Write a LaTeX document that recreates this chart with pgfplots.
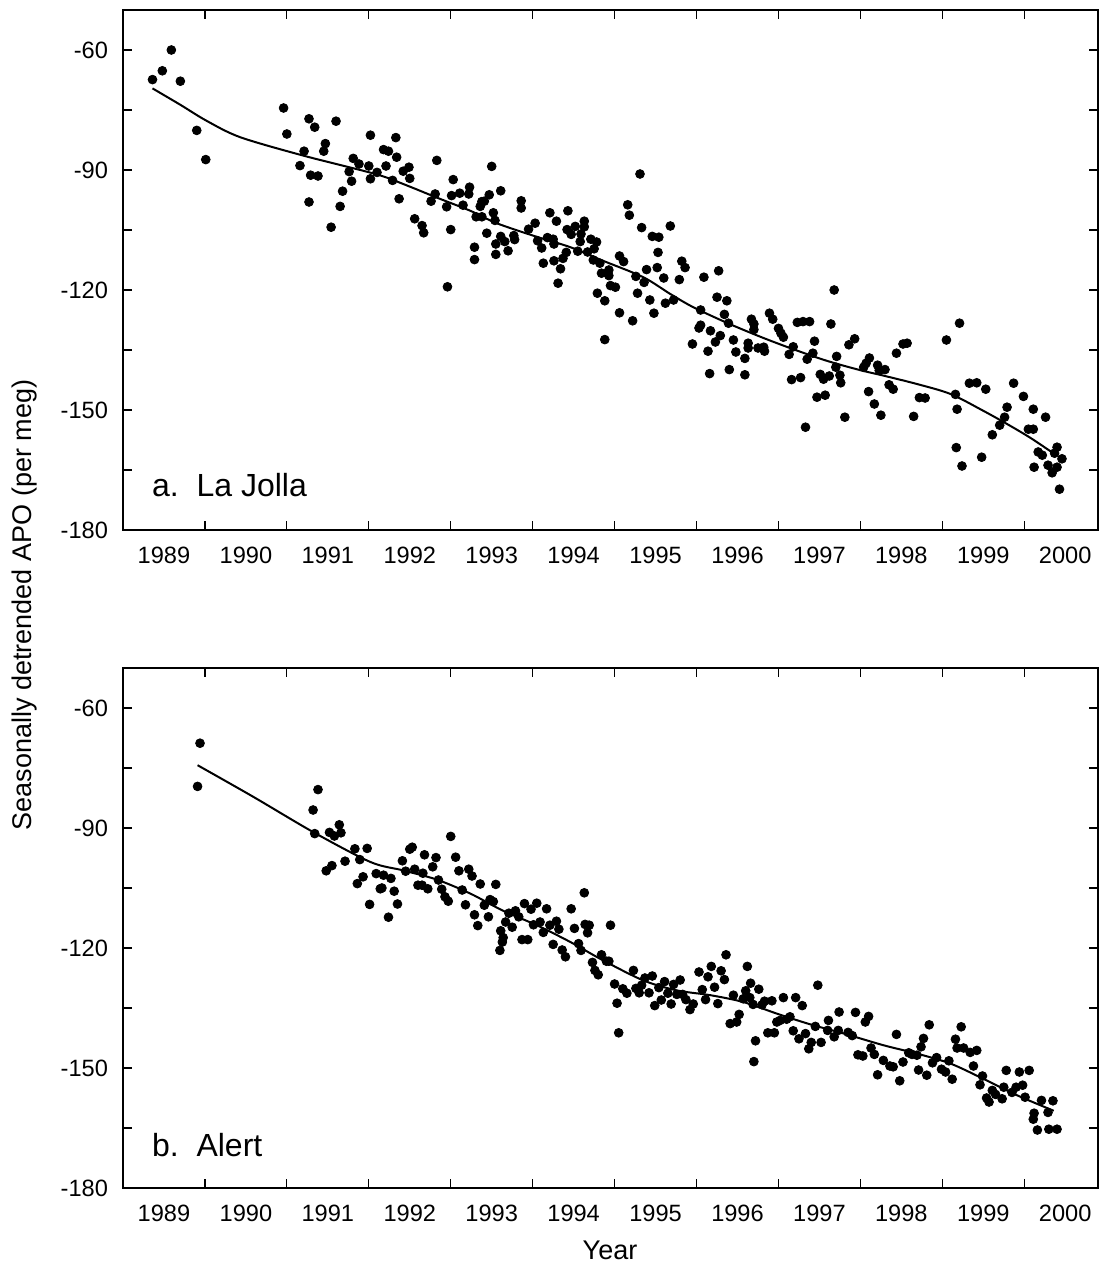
\documentclass[border=0pt]{standalone}
\usepackage{fontspec}
\setmainfont{Liberation Sans}
\usepackage{pgfplots}
\pgfplotsset{compat=1.18}
\pgfplotsset{
 apostyle/.style={
  scale only axis, width=487.5pt, height=260pt,
  xmin=1989, xmax=2000.9, ymin=-180, ymax=-50,
  xtick={1990,1991,1992,1993,1994,1995,1996,1997,1998,1999,2000},
  xticklabel={\mbox{}},
  extra x ticks={1989.5,1990.5,1991.5,1992.5,1993.5,1994.5,1995.5,1996.5,1997.5,1998.5,1999.5,2000.5},
  extra x tick labels={1989,1990,1991,1992,1993,1994,1995,1996,1997,1998,1999,2000},
  extra x tick style={major tick length=0pt, tick style={draw=none}, xticklabel style={yshift=-5pt}},
  ytick={-180,-150,-120,-90,-60},
  minor ytick={-165,-135,-105,-75},
  major tick length=4.5pt, minor tick length=4.5pt,
  tick align=inside,
  axis line style={line width=0.6pt},
  tick style={black, line width=0.6pt},
  /pgf/number format/assume math mode=true,
  ticklabel style={font=\fontsize{11.8}{14}\selectfont},
  yticklabel style={xshift=-4pt},
 },
 dots/.style={only marks, mark=*, mark size=2.2pt, mark options={fill=black, draw=black}},
 trend/.style={black, line width=1pt, smooth, no marks},
}
\begin{document}
\begin{tikzpicture}
\useasboundingbox (-61.5pt,-369pt) rectangle (490.5pt,265pt);
\begin{axis}[apostyle, at={(0,0)}, anchor=south west]
\addplot[dots] table {
1989.36 -67.4
1989.48 -65.2
1989.59 -60.0
1989.70 -67.8
1989.90 -80.1
1990.01 -87.4
1990.96 -74.5
1991.00 -81.0
1991.16 -88.9
1991.21 -85.3
1991.27 -77.2
1991.27 -98.0
1991.29 -91.3
1991.34 -79.3
1991.38 -91.5
1991.45 -85.3
1991.47 -83.4
1991.54 -104.3
1991.60 -77.8
1991.65 -99.1
1991.68 -95.3
1991.76 -90.4
1991.79 -92.8
1991.81 -87.1
1991.88 -88.5
1992.00 -89.0
1992.02 -81.3
1992.02 -92.2
1992.10 -90.6
1992.18 -84.9
1992.21 -89.0
1992.24 -85.3
1992.29 -92.6
1992.33 -81.9
1992.34 -86.8
1992.37 -97.2
1992.42 -90.3
1992.49 -89.3
1992.50 -92.1
1992.56 -102.2
1992.65 -103.9
1992.67 -105.7
1992.76 -97.8
1992.81 -96.0
1992.83 -87.6
1992.95 -99.2
1992.96 -119.2
1993.00 -104.9
1993.01 -96.4
1993.03 -92.4
1993.11 -95.8
1993.15 -98.8
1993.22 -96.0
1993.23 -94.3
1993.29 -109.3
1993.29 -112.4
1993.31 -101.7
1993.36 -99.1
1993.38 -97.9
1993.38 -101.7
1993.41 -97.8
1993.44 -105.8
1993.47 -96.2
1993.50 -89.1
1993.52 -100.7
1993.54 -102.6
1993.55 -108.5
1993.55 -111.1
1993.61 -95.2
1993.61 -106.6
1993.66 -107.9
1993.70 -110.2
1993.77 -106.4
1993.78 -107.4
1993.86 -97.7
1993.86 -99.5
1993.95 -104.8
1994.03 -103.3
1994.06 -107.7
1994.11 -109.5
1994.13 -113.3
1994.18 -106.9
1994.21 -100.7
1994.25 -107.3
1994.26 -108.5
1994.26 -112.7
1994.29 -102.8
1994.31 -118.3
1994.34 -114.7
1994.37 -112.1
1994.41 -110.6
1994.42 -104.9
1994.43 -100.2
1994.47 -106.1
1994.52 -104.1
1994.55 -110.3
1994.58 -107.9
1994.59 -106.0
1994.63 -102.8
1994.63 -104.2
1994.67 -110.5
1994.71 -107.3
1994.74 -112.5
1994.75 -109.7
1994.78 -108.0
1994.79 -120.8
1994.82 -113.3
1994.84 -115.8
1994.88 -122.7
1994.88 -132.4
1994.93 -115.0
1994.93 -116.4
1994.95 -118.9
1995.01 -119.3
1995.06 -111.5
1995.06 -125.7
1995.11 -112.9
1995.16 -98.7
1995.18 -101.3
1995.22 -127.7
1995.26 -116.6
1995.28 -120.8
1995.31 -91.0
1995.33 -104.4
1995.36 -118.1
1995.39 -114.9
1995.43 -122.5
1995.46 -106.6
1995.48 -125.8
1995.52 -114.4
1995.53 -110.6
1995.54 -106.8
1995.60 -117.0
1995.62 -123.3
1995.68 -104.0
1995.72 -122.5
1995.79 -117.4
1995.82 -112.8
1995.86 -114.4
1995.95 -133.5
1996.03 -129.5
1996.05 -125.0
1996.05 -128.8
1996.09 -116.8
1996.14 -135.3
1996.16 -140.9
1996.17 -130.2
1996.23 -133.0
1996.25 -121.8
1996.27 -115.2
1996.29 -131.4
1996.34 -126.1
1996.37 -122.7
1996.39 -128.3
1996.40 -139.9
1996.45 -132.5
1996.48 -135.5
1996.59 -137.1
1996.59 -141.2
1996.63 -133.3
1996.63 -134.5
1996.67 -127.3
1996.70 -128.5
1996.70 -129.9
1996.75 -134.5
1996.82 -134.3
1996.83 -135.3
1996.89 -125.8
1996.93 -127.3
1997.00 -129.6
1997.03 -130.8
1997.06 -131.8
1997.13 -136.1
1997.16 -142.4
1997.18 -134.2
1997.23 -128.1
1997.27 -141.9
1997.30 -127.9
1997.33 -154.3
1997.35 -137.3
1997.38 -127.9
1997.42 -135.8
1997.44 -132.8
1997.47 -146.8
1997.51 -141.1
1997.55 -142.3
1997.57 -146.3
1997.62 -141.5
1997.64 -128.5
1997.68 -120.0
1997.70 -139.3
1997.71 -136.6
1997.75 -141.3
1997.76 -143.2
1997.81 -151.8
1997.86 -133.7
1997.93 -132.2
1998.04 -139.3
1998.07 -138.3
1998.10 -145.4
1998.11 -137.0
1998.17 -148.5
1998.21 -138.8
1998.23 -140.1
1998.25 -151.3
1998.30 -139.9
1998.35 -143.7
1998.40 -144.8
1998.44 -135.8
1998.52 -133.5
1998.57 -133.3
1998.65 -151.6
1998.72 -146.9
1998.79 -147.0
1999.05 -132.5
1999.16 -146.1
1999.17 -159.4
1999.18 -149.8
1999.21 -128.3
1999.24 -164.0
1999.33 -143.3
1999.42 -143.2
1999.48 -161.8
1999.53 -144.8
1999.61 -156.2
1999.70 -153.8
1999.76 -151.8
1999.79 -149.3
1999.87 -143.3
1999.99 -146.6
2000.05 -154.8
2000.11 -149.8
2000.11 -154.8
2000.12 -164.3
2000.17 -160.5
2000.22 -161.3
2000.26 -151.8
2000.29 -163.8
2000.34 -165.7
2000.37 -160.8
2000.40 -159.3
2000.40 -164.3
2000.43 -169.8
2000.46 -162.2
};
\addplot[trend] table {
1989.36 -69.6
1989.70 -73.7
1990.02 -77.7
1990.43 -81.8
1991.20 -86.4
1992.08 -91.0
1992.42 -93.5
1992.83 -96.9
1993.24 -100.2
1993.56 -103.3
1994.05 -106.7
1994.46 -109.3
1994.86 -112.7
1995.35 -116.8
1995.68 -121.0
1995.96 -124.3
1996.37 -128.2
1996.78 -131.7
1997.18 -134.8
1997.59 -137.7
1997.99 -140.0
1998.28 -141.4
1998.69 -143.5
1999.10 -146.0
1999.50 -150.2
1999.79 -153.5
2000.07 -156.9
2000.34 -160.6
};
\node[anchor=base west, font=\fontsize{16}{19}\selectfont] at (rel axis cs:0.0226,0.0635) {a.\ \ La Jolla};
\end{axis}
\begin{axis}[apostyle, at={(0,-329pt)}, anchor=south west]
\addplot[dots] table {
1989.91 -79.6
1989.94 -68.8
1991.32 -85.5
1991.34 -91.4
1991.38 -80.4
1991.48 -100.7
1991.52 -91.1
1991.55 -99.4
1991.58 -92.0
1991.64 -89.2
1991.66 -91.2
1991.71 -98.3
1991.83 -95.2
1991.86 -103.9
1991.89 -97.9
1991.93 -102.2
1991.98 -95.1
1992.01 -109.1
1992.09 -101.4
1992.14 -105.2
1992.16 -105.0
1992.18 -101.8
1992.24 -112.3
1992.27 -102.6
1992.31 -105.8
1992.35 -109.0
1992.41 -98.2
1992.45 -100.8
1992.50 -95.3
1992.53 -94.8
1992.56 -100.3
1992.60 -104.3
1992.65 -104.3
1992.66 -101.3
1992.68 -96.7
1992.72 -105.2
1992.78 -99.7
1992.82 -97.4
1992.85 -103.0
1992.89 -105.3
1992.93 -107.2
1992.97 -108.3
1993.00 -92.1
1993.06 -97.3
1993.10 -100.7
1993.14 -105.5
1993.18 -109.2
1993.22 -100.3
1993.26 -102.0
1993.29 -111.7
1993.33 -114.4
1993.36 -104.0
1993.41 -109.3
1993.46 -112.2
1993.48 -107.9
1993.52 -108.4
1993.55 -104.1
1993.60 -120.6
1993.61 -115.7
1993.63 -118.5
1993.64 -117.4
1993.67 -113.5
1993.71 -111.3
1993.75 -114.8
1993.79 -110.7
1993.83 -112.2
1993.87 -117.9
1993.90 -108.9
1993.94 -117.9
1993.98 -110.3
1994.01 -114.2
1994.05 -108.8
1994.09 -113.5
1994.13 -116.1
1994.17 -110.2
1994.21 -114.3
1994.25 -119.1
1994.29 -113.3
1994.32 -115.3
1994.36 -120.5
1994.40 -122.2
1994.47 -110.2
1994.51 -115.1
1994.56 -118.9
1994.59 -120.6
1994.63 -106.2
1994.64 -114.1
1994.67 -116.2
1994.69 -114.3
1994.73 -123.6
1994.76 -125.6
1994.80 -126.7
1994.84 -121.7
1994.90 -123.3
1994.93 -123.3
1994.95 -114.3
1995.00 -129.0
1995.03 -133.8
1995.05 -141.2
1995.10 -130.2
1995.15 -131.3
1995.23 -125.6
1995.26 -130.1
1995.30 -131.2
1995.33 -129.3
1995.37 -127.5
1995.42 -131.2
1995.46 -127.0
1995.49 -134.4
1995.54 -129.9
1995.57 -133.0
1995.61 -128.4
1995.65 -131.3
1995.69 -134.0
1995.72 -129.1
1995.76 -131.6
1995.80 -128.0
1995.83 -131.6
1995.87 -132.9
1995.92 -135.4
1995.96 -134.0
1996.03 -126.0
1996.07 -130.4
1996.11 -132.9
1996.14 -127.2
1996.18 -124.6
1996.22 -129.8
1996.26 -133.9
1996.30 -125.7
1996.34 -127.9
1996.36 -121.7
1996.41 -138.9
1996.45 -131.8
1996.49 -138.5
1996.52 -136.6
1996.57 -132.7
1996.60 -130.7
1996.62 -124.6
1996.65 -132.4
1996.66 -128.8
1996.69 -134.1
1996.70 -148.4
1996.72 -143.2
1996.76 -130.3
1996.80 -134.2
1996.83 -133.3
1996.87 -141.2
1996.92 -133.2
1996.95 -141.2
1996.98 -138.5
1997.02 -138.1
1997.06 -132.4
1997.10 -137.8
1997.14 -137.2
1997.18 -140.7
1997.21 -132.4
1997.25 -142.7
1997.29 -134.4
1997.33 -141.4
1997.37 -145.2
1997.40 -143.6
1997.45 -139.6
1997.48 -129.3
1997.52 -143.6
1997.60 -140.6
1997.61 -138.1
1997.68 -142.2
1997.73 -140.6
1997.74 -136.0
1997.85 -141.1
1997.90 -141.9
1997.94 -136.1
1997.97 -146.7
1998.03 -147.0
1998.06 -138.5
1998.10 -137.1
1998.13 -145.0
1998.17 -146.6
1998.21 -151.7
1998.28 -148.1
1998.36 -149.5
1998.40 -149.7
1998.44 -141.6
1998.48 -153.2
1998.52 -148.5
1998.59 -146.2
1998.63 -146.6
1998.69 -146.8
1998.71 -150.5
1998.74 -144.7
1998.77 -142.6
1998.81 -151.8
1998.84 -139.2
1998.88 -148.7
1998.93 -147.4
1998.99 -150.3
1999.04 -151.0
1999.08 -148.2
1999.12 -152.8
1999.16 -142.8
1999.18 -145.0
1999.23 -139.7
1999.26 -145.0
1999.34 -146.1
1999.38 -149.5
1999.42 -145.6
1999.46 -154.2
1999.49 -152.0
1999.54 -157.5
1999.57 -158.5
1999.61 -155.6
1999.65 -156.6
1999.73 -157.7
1999.75 -154.8
1999.78 -150.6
1999.85 -156.1
1999.90 -154.8
1999.94 -151.0
1999.98 -154.3
2000.01 -157.3
2000.06 -150.6
2000.11 -162.8
2000.12 -161.3
2000.16 -165.5
2000.21 -158.1
2000.29 -161.1
2000.30 -165.3
2000.35 -158.2
2000.40 -165.3
};
\addplot[trend] table {
1989.91 -74.3
1990.59 -82.2
1991.32 -91.0
1992.02 -98.5
1992.42 -100.6
1992.83 -102.9
1993.24 -106.4
1993.64 -110.7
1994.05 -114.3
1994.46 -118.5
1994.86 -123.1
1995.35 -128.1
1995.76 -130.6
1996.17 -131.8
1996.57 -133.5
1996.98 -136.4
1997.39 -139.1
1997.80 -141.4
1998.28 -144.3
1998.69 -146.4
1999.10 -148.9
1999.50 -152.7
1999.91 -156.8
2000.36 -160.7
};
\node[anchor=base west, font=\fontsize{16}{19}\selectfont] at (rel axis cs:0.0226,0.06) {b.\ \ Alert};
\end{axis}
\node[rotate=90, font=\fontsize{13.5}{16}\selectfont] at (-49pt,-37.5pt) {Seasonally detrended APO (per meg)};
\node[font=\fontsize{13.5}{16}\selectfont] at (243.5pt,-360pt) {Year};
\end{tikzpicture}
\end{document}
